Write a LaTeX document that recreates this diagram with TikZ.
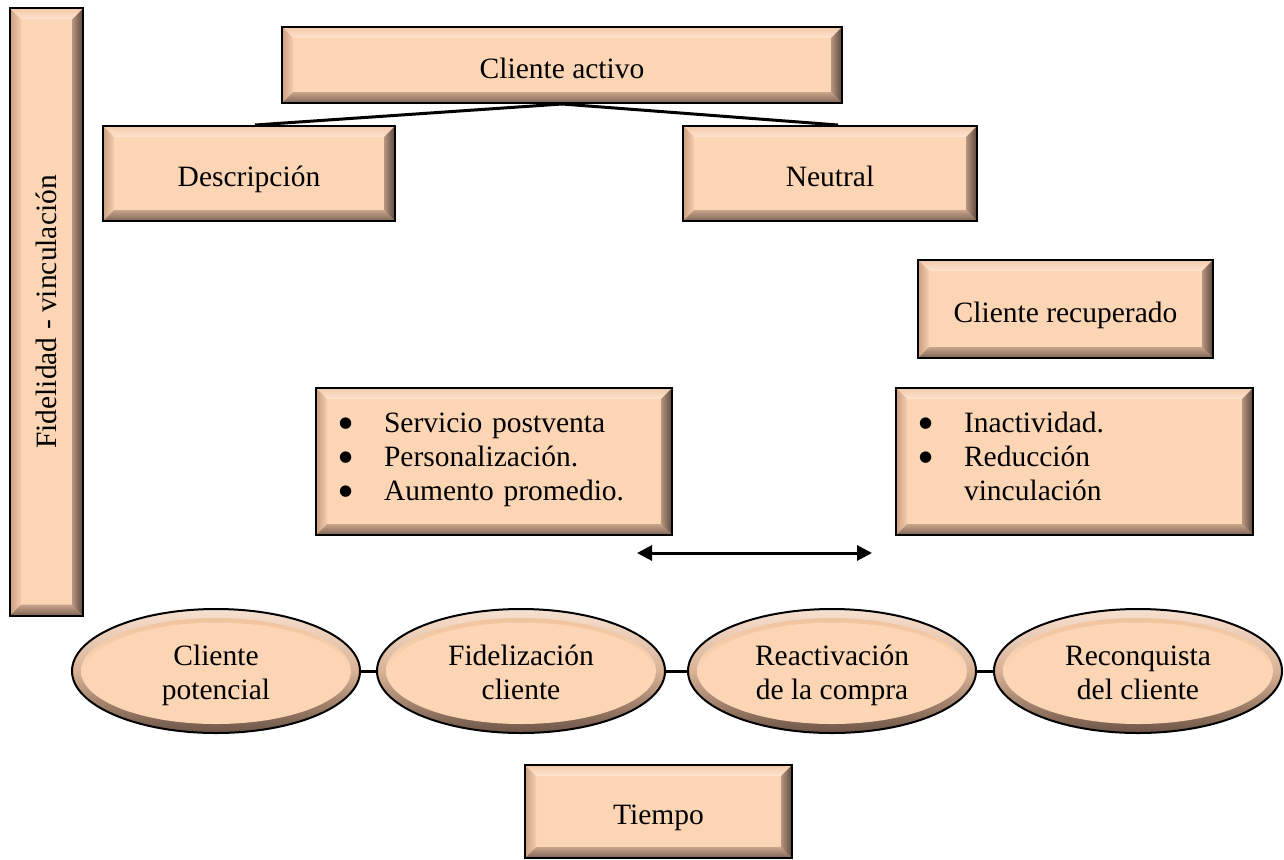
\documentclass[tikz,border=0pt]{standalone}
\usepackage{fontspec}
\usepackage{graphicx}
\setmainfont{Liberation Serif}
\newfontfamily\symfont{DejaVu Sans}
\usetikzlibrary{calc,shapes.geometric,arrows.meta}

\definecolor{face}{HTML}{FCD5B5}
\definecolor{topOut}{HTML}{F2C9AA}
\definecolor{topIn}{HTML}{FFE4CF}
\definecolor{leftOut}{HTML}{C99E82}
\definecolor{leftIn}{HTML}{F6CDAE}
\definecolor{botOut}{HTML}{7E6556}
\definecolor{botIn}{HTML}{C8A48B}
\definecolor{rightOut}{HTML}{5A473C}
\definecolor{rightIn}{HTML}{B89580}
\definecolor{ringTop}{HTML}{F8E2D2}
\definecolor{ringMid}{HTML}{D9B296}
\definecolor{ringBot}{HTML}{6A5244}

\tikzset{
  txt/.style={font=\fontsize{29.5}{34}\selectfont},
  bevelbox/.style={rectangle, draw=black, line width=2pt, fill=face,
    inner sep=0pt, txt, align=center,
    path picture={
      \coordinate (bsw) at (path picture bounding box.south west);
      \coordinate (bne) at (path picture bounding box.north east);
      \coordinate (bnw) at (bsw |- bne);
      \coordinate (bse) at (bne |- bsw);
      % top face of the bevel
      \shade[top color=topOut, bottom color=topIn]
        (bnw) -- (bne) -- ($(bne)+(-11pt,-11pt)$) -- ($(bnw)+(11pt,-11pt)$) -- cycle;
      % left face
      \shade[left color=leftOut, right color=leftIn]
        (bsw) -- (bnw) -- ($(bnw)+(11pt,-11pt)$) -- ($(bsw)+(11pt,11pt)$) -- cycle;
      % bottom face
      \shade[top color=botIn, bottom color=botOut]
        (bse) -- (bsw) -- ($(bsw)+(11pt,11pt)$) -- ($(bse)+(-11pt,11pt)$) -- cycle;
      % right face
      \shade[left color=rightIn, right color=rightOut]
        (bne) -- (bse) -- ($(bse)+(-11pt,11pt)$) -- ($(bne)+(-11pt,-11pt)$) -- cycle;
    }},
  oneline/.style={bevelbox, text height=26pt, text depth=0pt},
  bullets/.style={bevelbox, align=left, inner xsep=23pt},
  oval/.style={ellipse, draw=black, line width=2pt, fill=face,
    minimum width=288pt, minimum height=124pt, inner sep=0pt, txt, align=center,
    path picture={
      \shade[top color=ringTop, bottom color=ringBot, middle color=ringMid]
        (path picture bounding box.center) ellipse [x radius=146pt, y radius=64pt];
      \shade[top color=face!80!brown, bottom color=face, middle color=face]
        (path picture bounding box.center) ellipse [x radius=135pt, y radius=53pt];
      \fill[face]
        ($(path picture bounding box.center)+(1pt,-1.5pt)$) ellipse [x radius=132pt, y radius=50pt];
    }},
  link/.style={line width=3pt},
}

\newcommand{\bul}{\makebox[45pt][l]{\raisebox{5pt}{\symfont\fontsize{15}{15}\selectfont ●}}}
\newcommand{\twolines}[2]{\rule{0pt}{29pt}#1\\#2\rule[-7pt]{0pt}{7pt}}

\begin{document}
\begin{tikzpicture}[x=1pt, y=-1pt]
  \useasboundingbox (0,0) rectangle (1284,859);

  % vertical axis label
  \node[bevelbox, minimum width=73pt, minimum height=607pt] (fid) at (46.5,312)
    {\rotatebox{90}{Fidelidad - vinculación}};

  % upper tree
  \node[oneline, minimum width=560pt, minimum height=76pt] (ca) at (562,65) {Cliente activo};
  \node[oneline, minimum width=292pt, minimum height=95pt] (desc) at (249,173.5) {Descripción};
  \node[oneline, minimum width=294pt, minimum height=95pt] (neu) at (830,173.5) {Neutral};

  \node[oneline, minimum width=295pt, minimum height=98pt] (rec) at (1065.5,309) {Cliente recuperado};

  % bullet boxes
  \node[bullets, minimum width=356pt, minimum height=147pt, text width=310pt] (bl) at (494,461.5)
    {\bul Servicio postventa\\ \bul Personalización.\\ \bul Aumento promedio.\strut};
  \node[bullets, minimum width=357pt, minimum height=147pt, text width=311pt] (br) at (1074.5,461.5)
    {\bul Inactividad.\\ \bul Reducción\\ \hspace*{45pt}vinculación\strut};

  % double arrow between the bullet boxes
  \coordinate (al) at (637,553);
  \coordinate (ar) at (872,553);
  \draw[link, {Triangle[length=15pt,width=15pt]}-{Triangle[length=15pt,width=15pt]}] (al) -- (ar);

  % stages on the time line
  \node[oval] (e1) at (216,671) {\twolines{Cliente}{potencial}};
  \node[oval] (e2) at (521,671) {\twolines{Fidelización}{cliente}};
  \node[oval] (e3) at (832,671) {\twolines{Reactivación}{de la compra}};
  \node[oval] (e4) at (1138,671) {\twolines{Reconquista}{del cliente}};

  \node[oneline, minimum width=267pt, minimum height=93pt] (tiempo) at (658.5,811.5) {Tiempo};

  % connectors
  \draw[link] (ca.south) -- ([xshift=6pt]desc.north);
  \draw[link] (ca.south) -- ([xshift=8pt]neu.north);
  \draw[link] (e1.east) -- (e2.west);
  \draw[link] (e2.east) -- (e3.west);
  \draw[link] (e3.east) -- (e4.west);
\end{tikzpicture}
\end{document}
